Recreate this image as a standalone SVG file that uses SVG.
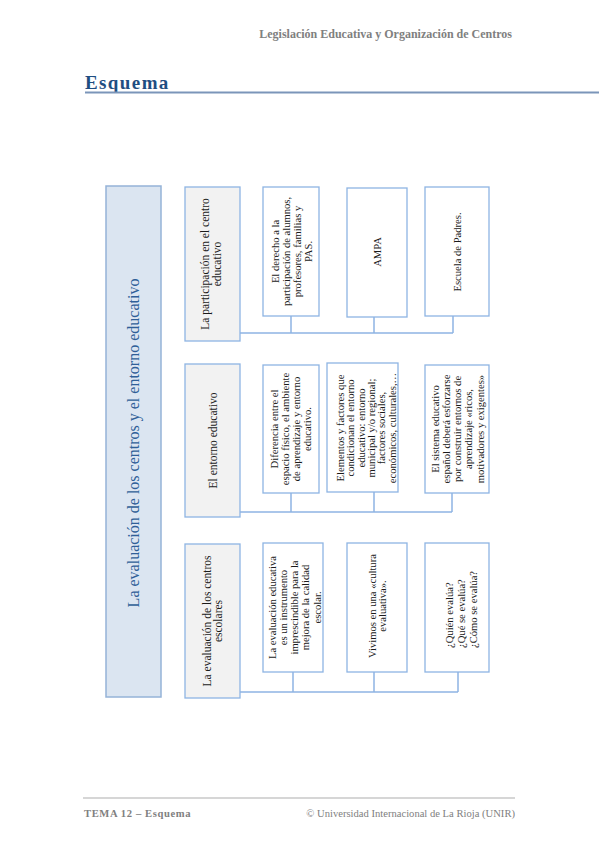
<svg xmlns="http://www.w3.org/2000/svg" width="599" height="848" viewBox="0 0 599 848">
<style>
.bg{fill:#ffffff}
.main{fill:#dbe5f1;stroke:#95b3d7;stroke-width:1.5}
.gray{fill:#f2f2f2;stroke:#8eb4e3;stroke-width:1.3}
.box{fill:#ffffff;stroke:#8eb4e3;stroke-width:1.3}
.conn{fill:none;stroke:#8eb4e3;stroke-width:1.5}
.t{font-family:"Liberation Serif","Times New Roman",serif;fill:#1a1a1a;text-anchor:middle;font-size:10.6px}
.tg{font-family:"Liberation Serif","Times New Roman",serif;fill:#1a1a1a;text-anchor:middle;font-size:11.5px}
.ttl{font-family:"Liberation Serif","Times New Roman",serif;fill:#2f5f98;text-anchor:middle;font-size:16px}
.hdr{font-family:"Liberation Serif","Times New Roman",serif;fill:#808080;font-weight:bold;font-size:12px}
.ftr{font-family:"Liberation Serif","Times New Roman",serif;fill:#808080;font-size:10.6px}
</style>
<rect class="bg" x="0" y="0" width="599" height="848"/>

<g id="header">
<text class="hdr" x="512" y="38" text-anchor="end">Legislación Educativa y Organización de Centros</text>
<text x="85" y="89" font-family="'Liberation Serif','Times New Roman',serif" font-size="19" font-weight="bold" letter-spacing="1.4" fill="#1f4e82">Esquema</text>
<line x1="85" y1="92.5" x2="599" y2="92.5" stroke="#7b95b9" stroke-width="2"/>
</g>

<g id="connectors">
<path class="conn" d="M240 333 H453 M291 316 V333 M374 317 V333 M453 316 V333"/>
<path class="conn" d="M240 512 H452 M291 493 V512 M374 492 V512 M452 493 V512"/>
<path class="conn" d="M240 692 H458 M293 672 V692 M374 672 V692 M458 672 V692"/>
</g>

<g id="main">
<rect class="main" x="106" y="186" width="55" height="511"/>
<text class="ttl" transform="translate(133.5,443) rotate(-90)" y="5.5">La evaluación de los centros y el entorno educativo</text>
</g>

<g id="participacion">
<rect class="gray" x="185" y="187" width="55" height="154"/>
<text class="tg" transform="translate(211,264) rotate(-90)"><tspan x="0" y="-2">La participación en el centro</tspan><tspan x="0" y="10">educativo</tspan></text>
</g>

<g id="derecho">
<rect class="box" x="263" y="187" width="56" height="129"/>
<text class="t" transform="translate(291.5,251.5) rotate(-90)"><tspan x="0" y="-12.8">El derecho a la</tspan><tspan x="0" y="-1.8">participación de alumnos,</tspan><tspan x="0" y="9.2">profesores, familias y</tspan><tspan x="0" y="20.2">PAS.</tspan></text>
</g>

<g id="ampa">
<rect class="box" x="347" y="188" width="60" height="129"/>
<text class="t" transform="translate(377,252) rotate(-90)" y="3.7">AMPA</text>
</g>

<g id="escuela">
<rect class="box" x="425" y="187" width="64" height="129"/>
<text class="t" transform="translate(457,252) rotate(-90)" y="3.7">Escuela de Padres.</text>
</g>

<g id="entorno">
<rect class="gray" x="185" y="364" width="55" height="153"/>
<text class="tg" transform="translate(213,440.5) rotate(-90)" y="4">El entorno educativo</text>
</g>

<g id="diferencia">
<rect class="box" x="263" y="365" width="56" height="128"/>
<text class="t" transform="translate(291,429) rotate(-90)"><tspan x="0" y="-12.8">Diferencia entre el</tspan><tspan x="0" y="-1.8">espacio físico, el ambiente</tspan><tspan x="0" y="9.2">de aprendizaje y entorno</tspan><tspan x="0" y="20.2">educativo.</tspan></text>
</g>

<g id="elementos">
<rect class="box" x="327" y="363" width="71" height="129"/>
<text class="t" transform="translate(366,428) rotate(-90)"><tspan x="0" y="-22.3">Elementos y factores que</tspan><tspan x="0" y="-11.9">condicionan el entorno</tspan><tspan x="0" y="-1.5">educativo: entorno</tspan><tspan x="0" y="8.9">municipal y/o regional;</tspan><tspan x="0" y="19.3">factores sociales,</tspan><tspan x="0" y="29.7">económicos, culturales,…</tspan></text>
</g>

<g id="sistema">
<rect class="box" x="425" y="365" width="64" height="128"/>
<text class="t" transform="translate(457.5,429) rotate(-90)"><tspan x="0" y="-18.7">El sistema educativo</tspan><tspan x="0" y="-7.5">español deberá esforzarse</tspan><tspan x="0" y="3.7">por construir entornos de</tspan><tspan x="0" y="14.9">aprendizaje «ricos,</tspan><tspan x="0" y="26.1">motivadores y exigentes»</tspan></text>
</g>

<g id="evaluacion-centros">
<rect class="gray" x="185" y="544" width="55" height="154"/>
<text class="tg" transform="translate(212,621) rotate(-90)"><tspan x="0" y="-1.5">La evaluación de los centros</tspan><tspan x="0" y="10">escolares</tspan></text>
</g>

<g id="evaluacion-educativa">
<rect class="box" x="263" y="543" width="60" height="129"/>
<text class="t" transform="translate(294.5,607.5) rotate(-90)"><tspan x="0" y="-18.7">La evaluación educativa</tspan><tspan x="0" y="-7.5">es un instrumento</tspan><tspan x="0" y="3.7">imprescindible para la</tspan><tspan x="0" y="14.9">mejora de la calidad</tspan><tspan x="0" y="26.1">escolar.</tspan></text>
</g>

<g id="cultura">
<rect class="box" x="347" y="543" width="60" height="129"/>
<text class="t" transform="translate(377,606) rotate(-90)"><tspan x="0" y="-1.5">Vivimos en una «cultura</tspan><tspan x="0" y="9">evaluativa».</tspan></text>
</g>

<g id="preguntas">
<rect class="box" x="425" y="543" width="64" height="129"/>
<text class="t" transform="translate(461,648) rotate(-90)" text-anchor="start"><tspan x="0" y="-8" text-anchor="start">¿Quién evalúa?</tspan><tspan x="0" y="4" text-anchor="start">¿Qué se evalúa?</tspan><tspan x="0" y="16" text-anchor="start">¿Cómo se evalúa?</tspan></text>
</g>

<g id="footer">
<line x1="83" y1="798" x2="515" y2="798" stroke="#c8c8c8" stroke-width="1.5"/>
<text class="ftr" x="84" y="817" font-weight="bold" font-size="11.5" letter-spacing="0.6">TEMA 12 – Esquema</text>
<text class="ftr" x="515" y="817" text-anchor="end">© Universidad Internacional de La Rioja (UNIR)</text>
</g>
</svg>
